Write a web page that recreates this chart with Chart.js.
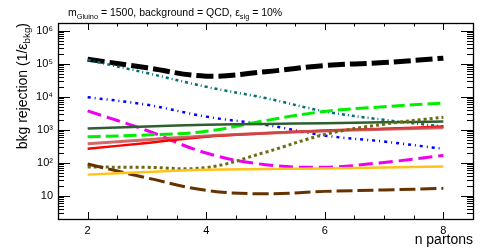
<!DOCTYPE html>
<html><head><meta charset="utf-8">
<script src="https://cdn.jsdelivr.net/npm/chart.js@4.4.1/dist/chart.umd.min.js"></script>
<style>html,body{margin:0;padding:0;background:#fff;overflow:hidden}canvas{display:block}</style>
</head><body>
<canvas id="c" width="488" height="252"></canvas>
<script>
// ---- data ----
const nPartons = [2, 3, 4, 5, 6, 7, 8];
const xTickLabels = [2, 4, 6, 8];
const yTickValues = [10, 100, 1000, 10000, 100000, 1000000];
const xMin = 1.5, xMax = 8.5, yMin = 2, yMax = 1.7e6;

const blackDashed  = [1.37e5, 7.5e4, 4.2e4, 5.7e4, 8.8e4, 1.08e5, 1.47e5];
const tealDotted   = [1.3e5, 5.2e4, 2.0e4, 9.1e3, 3.6e3, 2.0e3, 1.26e3];
const blueDashDot  = [9.7e3, 5.7e3, 2.5e3, 1.42e3, 670, 440, 265];
const magentaDash  = [3.75e3, 950, 198, 88, 74, 103, 168];
const darkGreen    = [1.1e3, 1.26e3, 1.42e3, 1.5e3, 1.58e3, 1.68e3, 1.78e3];
const greenDashed  = [614, 700, 900, 1.9e3, 3.6e3, 5.0e3, 6.4e3];
const redSolid     = [267, 400, 620, 780, 950, 1.08e3, 1.25e3];
const rosySolid    = [378, 500, 650, 790, 920, 1.04e3, 1.15e3];
const oliveDotted  = [75, 73, 72, 210, 720, 1.48e3, 2.4e3];
const orangeSolid  = [44, 53, 62, 65, 68, 72, 78];
const brownDashed  = [92, 35, 14.7, 11.6, 13.7, 15.1, 16.9];

const FONT = "'Liberation Sans', Arial, Helvetica, sans-serif";

function series(arr, color, width, dash) {
  return {
    data: nPartons.map((x, i) => ({ x: x, y: arr[i] })),
    borderColor: color, borderWidth: width, borderDash: dash || [],
    pointRadius: 0, fill: false, tension: 0.4
  };
}

const datasets = [
  series(orangeSolid, '#ffc21a', 2.5),
  series(brownDashed, '#663300', 3, [16, 5]),
  series(oliveDotted, '#6b6b14', 3, [3, 3]),
  series(rosySolid, 'rgba(200,80,80,0.85)', 3),
  series(redSolid, '#ff0000', 2.5),
  series(darkGreen, '#2f5f2f', 2.5),
  series(greenDashed, '#00ee00', 3, [13, 5]),
  series(magentaDash, '#ee00ee', 3, [14, 6]),
  series(blueDashDot, '#0000ff', 2.5, [3, 4, 1, 4]),
  series(tealDotted, '#007070', 2.5, [3, 3, 1, 3]),
  series(blackDashed, '#000000', 5, [17, 5])
];

const supDigits = { '0': '\u2070', '1': '\u00b9', '2': '\u00b2', '3': '\u00b3', '4': '\u2074', '5': '\u2075', '6': '\u2076' };

function drawRich(ctx, parts, x, y, size, align) {
  let w = 0;
  parts.forEach(p => {
    ctx.font = (p.sub ? size * 0.7 : size) + 'px ' + FONT;
    w += ctx.measureText(p.t).width;
  });
  let cx = align === 'right' ? x - w : x;
  parts.forEach(p => {
    ctx.font = (p.sub ? size * 0.7 : size) + 'px ' + FONT;
    ctx.fillText(p.t, cx, p.sub ? y + size * 0.28 : y);
    cx += ctx.measureText(p.t).width;
  });
}

const rootAxes = {
  id: 'rootAxes',
  afterDatasetsDraw(chart) {
    const { ctx, chartArea: a, scales: { x, y } } = chart;
    ctx.save();
    ctx.strokeStyle = '#000';
    ctx.lineWidth = 1;
    ctx.beginPath();
    for (let d = 0; d <= 6; d++) {
      for (let m = 1; m <= 9; m++) {
        const v = m * Math.pow(10, d);
        if (v < yMin || v > yMax) continue;
        const py = Math.round(y.getPixelForValue(v)) + 0.5;
        const len = m === 1 ? 12 : 6;
        ctx.moveTo(a.left, py); ctx.lineTo(a.left + len, py);
        ctx.moveTo(a.right, py); ctx.lineTo(a.right - len, py);
      }
    }
    for (let v = 2; v <= 8.001; v += 0.5) {
      const px = Math.round(x.getPixelForValue(v)) + 0.5;
      const len = (Math.abs(v % 2) < 1e-6) ? 7 : 3.5;
      ctx.moveTo(px, a.bottom); ctx.lineTo(px, a.bottom - len);
      ctx.moveTo(px, a.top); ctx.lineTo(px, a.top + len);
    }
    ctx.stroke();
    ctx.lineWidth = 1.3;
    ctx.strokeRect(Math.round(a.left) + 0.5, Math.round(a.top) + 0.5,
                   Math.round(a.right - a.left), Math.round(a.bottom - a.top));
    ctx.restore();
  },
  afterDraw(chart) {
    const { ctx, chartArea: a } = chart;
    ctx.save();
    ctx.fillStyle = '#000';
    ctx.textBaseline = 'alphabetic';
    ctx.textAlign = 'left';
    // top title
    drawRich(ctx, [
      { t: 'm' }, { t: 'Gluino', sub: true },
      { t: ' = 1500, background = QCD, \u03b5' }, { t: 'sig', sub: true },
      { t: ' = 10%' }
    ], 68, 16, 10.5, 'left');
    // x title
    drawRich(ctx, [{ t: 'n partons' }], a.right, 243.5, 14, 'right');
    // y title
    ctx.translate(26.5, a.top);
    ctx.rotate(-Math.PI / 2);
    drawRich(ctx, [
      { t: 'bkg rejection (1/\u03b5' }, { t: 'bkg', sub: true }, { t: ')' }
    ], 0, 0, 14, 'right');
    ctx.restore();
  }
};

new Chart(document.getElementById('c'), {
  type: 'line',
  data: { datasets: datasets },
  options: {
    responsive: false, animation: false, devicePixelRatio: 1,
    layout: { padding: { top: 23, right: 15, left: 0, bottom: 0 } },
    plugins: { legend: { display: false }, tooltip: { enabled: false }, title: { display: false } },
    scales: {
      x: {
        type: 'linear', min: xMin, max: xMax, bounds: 'data',
        grid: { display: false, drawTicks: false },
        border: { display: false },
        afterBuildTicks: s => { s.ticks = xTickLabels.map(v => ({ value: v })); },
        afterFit: s => { s.height = 33; },
        ticks: { color: '#000', font: { family: FONT, size: 11 }, padding: 5, maxRotation: 0,
                 callback: v => String(v) }
      },
      y: {
        type: 'logarithmic', min: yMin, max: yMax, bounds: 'data',
        grid: { display: false, drawTicks: false },
        border: { display: false },
        afterBuildTicks: s => { s.ticks = yTickValues.map(v => ({ value: v })); },
        afterFit: s => { s.width = 58; },
        ticks: { color: '#000', font: { family: FONT, size: 11 }, padding: 5,
                 callback: v => { const e = Math.round(Math.log10(v)); return e === 1 ? '10' : '10' + supDigits[String(e)]; } }
      }
    }
  },
  plugins: [rootAxes]
});
</script>
</body></html>
